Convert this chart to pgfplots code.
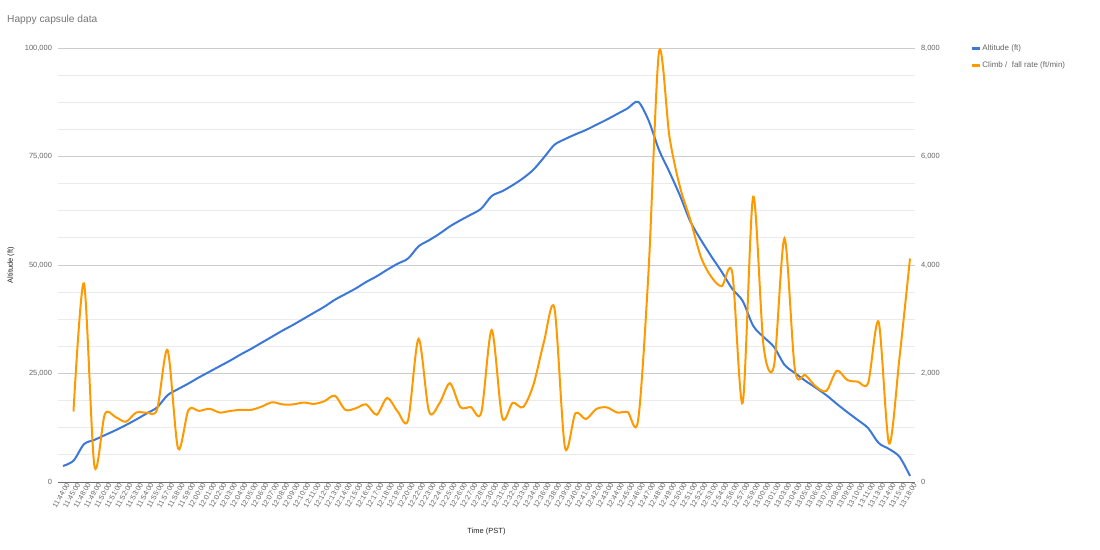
\documentclass[border=0pt]{standalone}
\usepackage{fontspec}
\setmainfont{Liberation Sans}
\usepackage{pgfplots}
\usepackage{pgfplotstable}
\pgfplotsset{compat=1.18}
\definecolor{altblue}{RGB}{60,120,216}
\definecolor{climborange}{RGB}{255,153,0}
\definecolor{tickgray}{RGB}{102,102,102}
\definecolor{titlegray}{RGB}{117,117,117}
\definecolor{labelgray}{RGB}{34,34,34}
\definecolor{majgrid}{RGB}{204,204,204}
\definecolor{mingrid}{RGB}{235,235,235}
\definecolor{basegray}{RGB}{110,110,110}

\pgfplotstableread{
x y
0 3700
1 4900
2 8700
3 9700
4 10800
5 11900
6 13100
7 14400
8 15800
9 17200
10 20000
11 21400
12 22700
13 24100
14 25400
15 26700
16 28000
17 29400
18 30700
19 32100
20 33500
21 34900
22 36200
23 37600
24 39000
25 40400
26 42000
27 43300
28 44600
29 46100
30 47400
31 48900
32 50300
33 51500
34 54300
35 55700
36 57200
37 58900
38 60300
39 61600
40 63000
41 65900
42 67000
43 68400
44 70000
45 72000
46 74800
47 77700
48 79000
49 80100
50 81100
51 82300
52 83500
53 84800
54 86100
55 87600
56 83300
57 76500
58 71400
59 66000
60 60000
61 55800
62 52000
63 48400
64 44500
65 41700
66 36000
67 33400
68 31100
69 27000
70 25100
71 23300
72 21700
73 20000
74 18000
75 16100
76 14300
77 12400
78 9000
79 7600
80 5800
81 1400
}\altdata

\pgfplotstableread{
x y
1 1300
2 3660
3 300
4 1250
5 1200
6 1110
7 1280
8 1280
9 1340
10 2430
11 620
12 1330
13 1310
14 1350
15 1280
16 1310
17 1330
18 1330
19 1390
20 1470
21 1430
22 1430
23 1465
24 1440
25 1490
26 1590
27 1330
28 1360
29 1430
30 1240
31 1550
32 1300
33 1140
34 2640
35 1300
36 1450
37 1820
38 1380
39 1380
40 1280
41 2800
42 1190
43 1460
44 1380
45 1800
46 2590
47 3200
48 640
49 1266
50 1160
51 1345
52 1376
53 1280
54 1290
55 1140
56 3900
57 7930
58 6360
59 5440
60 4830
61 4150
62 3780
63 3610
64 3860
65 1460
66 5260
67 2500
68 2150
69 4490
70 2060
71 1970
72 1760
73 1680
74 2050
75 1880
76 1850
77 1830
78 2950
79 710
80 2300
81 4120
}\climbdata

\begin{document}
\begin{tikzpicture}[x=1pt,y=1pt]
\useasboundingbox (0,0) rectangle (1100,549);
\node[anchor=west, inner sep=0, font=\fontsize{10.2}{12}\selectfont, text=titlegray] at (7,529) {Happy capsule data};

\begin{axis}[
  at={(58pt,67pt)}, anchor=south west,
  scale only axis, width=857pt, height=434pt,
  xmin=-0.48, xmax=81.48, ymin=0, ymax=100000,
  axis x line*=bottom, axis y line*=left,
  y axis line style={draw=none},
  x axis line style={draw=basegray, line width=1pt, -},
  clip=false,
  major tick length=0pt, minor tick length=0pt,
  ytick={0,25000,50000,75000,100000},
  minor ytick={6250,12500,18750,31250,37500,43750,56250,62500,68750,81250,87500,93750},
  ymajorgrids, yminorgrids,
  major grid style={draw=majgrid, line width=0.9pt},
  minor grid style={draw=mingrid, line width=0.8pt},
  scaled y ticks=false,
  /pgf/number format/fixed,
  /pgf/number format/1000 sep={,},
  /pgf/number format/assume math mode=true,
  yticklabel style={font=\fontsize{7.5}{9}\selectfont, text=tickgray, xshift=-2.5pt},
  xtick={0,...,81},
  xticklabels={11:44:00,11:45:00,11:48:00,11:49:00,11:50:00,11:51:00,11:52:00,11:53:00,11:54:00,11:55:00,11:57:00,11:58:00,11:59:00,12:00:00,12:01:00,12:02:00,12:03:00,12:04:00,12:05:00,12:06:00,12:07:00,12:08:00,12:09:00,12:10:00,12:11:00,12:12:00,12:13:00,12:14:00,12:15:00,12:16:00,12:17:00,12:18:00,12:19:00,12:20:00,12:22:00,12:23:00,12:24:00,12:25:00,12:26:00,12:27:00,12:28:00,12:30:00,12:31:00,12:32:00,12:33:00,12:34:00,12:36:00,12:38:00,12:39:00,12:40:00,12:41:00,12:42:00,12:43:00,12:44:00,12:45:00,12:46:00,12:47:00,12:48:00,12:49:00,12:50:00,12:51:00,12:52:00,12:53:00,12:54:00,12:56:00,12:57:00,12:59:00,13:00:00,13:01:00,13:03:00,13:04:00,13:05:00,13:06:00,13:07:00,13:08:00,13:09:00,13:10:00,13:11:00,13:13:00,13:14:00,13:15:00,13:18:00},
  x tick label style={rotate=60, anchor=east, font=\fontsize{7.2}{8}\selectfont, text=tickgray, inner sep=0.5pt, yshift=-5pt, xshift=2pt},
  xlabel={Time (PST)},
  xlabel style={at={(axis description cs:0.5,-0.1152)}, anchor=center, font=\fontsize{7.5}{9}\selectfont, text=labelgray},
  ylabel={Altitude (ft)},
  ylabel style={at={(axis description cs:-0.055,0.5)}, anchor=center, font=\fontsize{7.5}{9}\selectfont, text=labelgray},
]
\addplot[altblue, line width=2pt, smooth, tension=0.5] table[x=x,y=y] {\altdata};
\end{axis}

\begin{axis}[
  at={(58pt,67pt)}, anchor=south west,
  scale only axis, width=857pt, height=434pt,
  xmin=-0.48, xmax=81.48, ymin=0, ymax=8000,
  hide x axis,
  axis y line*=right,
  y axis line style={draw=none},
  clip=false,
  major tick length=0pt,
  ytick={0,2000,4000,6000,8000},
  scaled y ticks=false,
  /pgf/number format/fixed,
  /pgf/number format/1000 sep={,},
  /pgf/number format/assume math mode=true,
  yticklabel style={font=\fontsize{7.5}{9}\selectfont, text=tickgray, xshift=2.5pt},
  legend style={at={(axis description cs:1.0641,1.0115)}, anchor=north west, draw=none, fill=none,
    font=\fontsize{8}{9}\selectfont, text=tickgray, row sep=7pt, inner sep=0pt,
    nodes={inner sep=1.5pt}},
  legend cell align=left,
  legend image code/.code={\draw[#1, line width=2.8pt] (0pt,0pt) -- (8pt,0pt);},
]
\addlegendimage{altblue}
\addlegendentry{Altitude (ft)}
\addplot[climborange, line width=2pt, smooth, tension=0.5] table[x=x,y=y] {\climbdata};
\addlegendentry{Climb /\ \ fall rate (ft/min)}
\end{axis}
\end{tikzpicture}
\end{document}
